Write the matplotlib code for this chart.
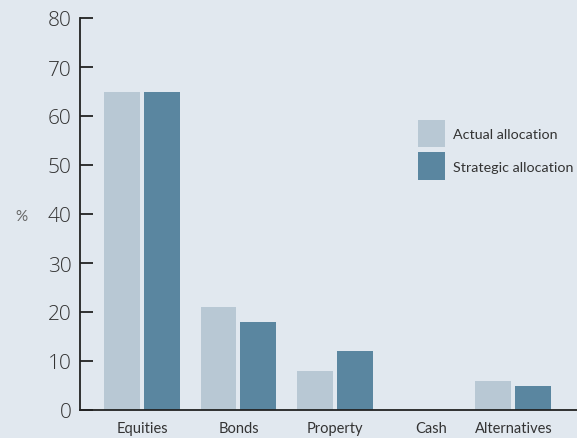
import matplotlib
matplotlib.use("Agg")
import matplotlib.pyplot as plt
from matplotlib.patches import Patch

categories = ["Equities", "Bonds", "Property", "Cash", "Alternatives"]
actual = [65, 21, 8, 0, 6]
strategic = [65, 18, 12, 0, 5]
series_names = ["Actual allocation", "Strategic allocation"]
yticks = [0, 10, 20, 30, 40, 50, 60, 70, 80]

# layout of the category groups along the x axis
positions = [0, 1, 2, 3, 3.85]
bar_w = 0.373
offset = 0.207

bg = "#E1E8EF"
c_actual = "#B8C8D4"
c_strat = "#5A86A0"
ink = "#333333"

plt.rcParams["font.family"] = ["Lato", "DejaVu Sans"]

fig = plt.figure(figsize=(5.77, 4.39), dpi=100, facecolor=bg)
W, H = 577, 439
ax = fig.add_axes([80 / W, (H - 411) / H, (W - 80) / W, (411 - 19) / H])
ax.set_facecolor(bg)

ax.bar([p - offset for p in positions], actual, width=bar_w, color=c_actual, zorder=2)
ax.bar([p + offset for p in positions], strategic, width=bar_w, color=c_strat, zorder=2)

ax.set_ylim(0, 80)
ax.set_xlim(-0.643, 4.51)
ax.set_yticks(yticks)
ax.set_yticklabels([str(v) for v in yticks], fontsize=15, color=ink,
                   family=["Open Sans", "DejaVu Sans"], fontweight=300)
ax.set_xticks(positions)
ax.set_xticklabels(categories, fontsize=10.5, color=ink)

for s in ["top", "right"]:
    ax.spines[s].set_visible(False)
for s in ["left", "bottom"]:
    ax.spines[s].set_color("#222222")
    ax.spines[s].set_linewidth(1.3)

ax.tick_params(axis="y", direction="in", length=9, width=1.3, color="#222222", pad=6)
ax.tick_params(axis="x", length=0, pad=8)

fig.text(21 / W, 1 - 217 / H, "%", fontsize=11, color="#666666", ha="center", va="center")

handles = [Patch(facecolor=c_actual), Patch(facecolor=c_strat)]
ax.legend(handles, series_names, loc="upper left", bbox_to_anchor=((412 - 80) / (W - 80), (411 - 115) / (411 - 19)),
          frameon=False, fontsize=10.3, handlelength=1.9, handleheight=2.6,
          handletextpad=0.6, labelspacing=0.35, labelcolor=ink, borderaxespad=0)

fig.savefig("out.png", dpi=100, facecolor=bg)
